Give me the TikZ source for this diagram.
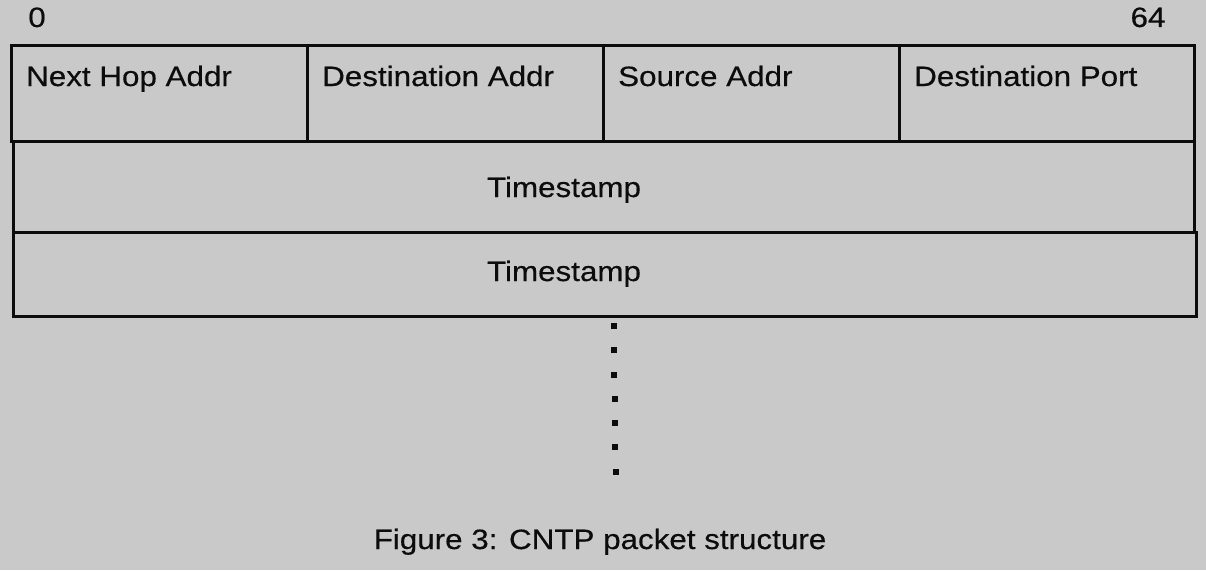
\documentclass[tikz,border=0pt]{standalone}
\usepackage{fontspec}
\setmainfont[FakeStretch=1.12,FakeBold=0.4]{Liberation Sans}
\definecolor{bg}{RGB}{201,201,201}
\definecolor{ink}{RGB}{12,12,12}
\tikzset{
  cell/.style={draw=ink, line width=2.6pt, minimum width=#1, inner sep=0pt, anchor=north west},
  lbl/.style={text=ink, inner sep=0pt, font=\fontsize{28}{34}\selectfont},
  dotmark/.style={fill=ink, minimum size=6pt, inner sep=0pt}
}
\begin{document}
\begin{tikzpicture}[x=1pt,y=-1pt]
\fill[bg] (0,0) rectangle (1206,570);
\useasboundingbox (0,0) rectangle (1206,570);
% top row
\node[cell=296pt, minimum height=96pt] (c1) at (10,44) {};
\node[cell=296pt, minimum height=96pt] (c2) at (306,44) {};
\node[cell=296pt, minimum height=96pt] (c3) at (602,44) {};
\node[cell=295pt, minimum height=96pt] (c4) at (898,44) {};
% timestamp rows
\node[cell=1181pt, minimum height=91pt] (r2) at (12,140) {};
\node[cell=1183pt, minimum height=84pt] (r3) at (12,231) {};
% labels
\node[lbl, anchor=base] (b0) at (37,27) {0};
\node[lbl, anchor=base] (b64) at (1148,27) {64};
\node[lbl, anchor=base west] (l1) at (26,86) {Next Hop Addr};
\node[lbl, anchor=base west] (l2) at (322,86) {Destination Addr};
\node[lbl, anchor=base west] (l3) at (618,86) {Source Addr};
\node[lbl, anchor=base west] (l4) at (914,86) {Destination Port};
\node[lbl, anchor=base] (t1) at (564,197) {Timestamp};
\node[lbl, anchor=base] (t2) at (564,281) {Timestamp};
% continuation dots
\foreach \i/\yy/\xx in {1/326/614,2/350/614,3/375/614,4/399/615,5/423/615,6/447/615,7/472/616}
  \node[dotmark] (d\i) at (\xx,\yy) {};
% caption
\node[lbl, anchor=base] (cap) at (600,549) {Figure 3: CNTP packet structure};
\end{tikzpicture}
\end{document}
